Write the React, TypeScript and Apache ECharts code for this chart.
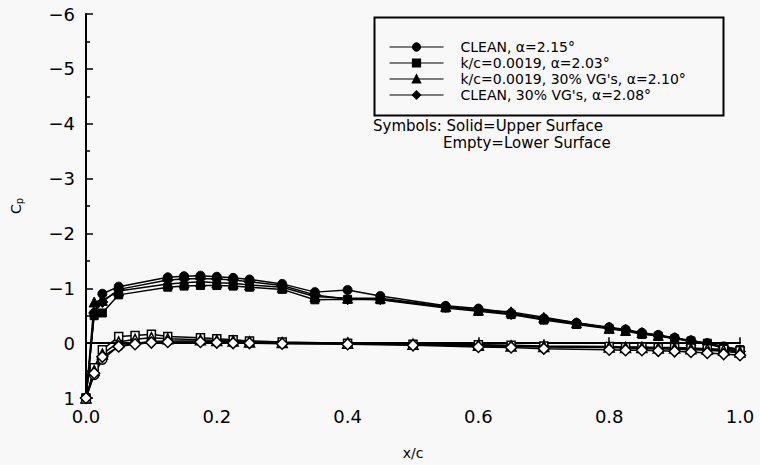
import React, { useEffect, useRef } from "react";
import * as echarts from "echarts";

const FONT = "'DejaVu Sans', 'Liberation Sans', sans-serif";

// Chordwise stations (x/c)
const xUpper = [0, 0.0125, 0.025, 0.05, 0.125, 0.15, 0.175, 0.2, 0.225, 0.25, 0.3, 0.35, 0.4, 0.45, 0.55, 0.6, 0.65, 0.7, 0.75, 0.8, 0.825, 0.85, 0.875, 0.9, 0.925, 0.95, 0.975, 1.0];
const xLower = [0, 0.0125, 0.025, 0.05, 0.075, 0.1, 0.125, 0.175, 0.2, 0.225, 0.25, 0.3, 0.4, 0.5, 0.6, 0.65, 0.7, 0.8, 0.825, 0.85, 0.875, 0.9, 0.925, 0.95, 0.975, 1.0];

// Pressure coefficient, upper surface
const cleanUpper = [1.0, -0.55, -0.9, -1.03, -1.2, -1.22, -1.23, -1.21, -1.19, -1.16, -1.08, -0.93, -0.97, -0.86, -0.68, -0.63, -0.55, -0.45, -0.37, -0.29, -0.25, -0.19, -0.15, -0.1, -0.05, 0.0, 0.06, 0.12];
const roughUpper = [1.0, -0.5, -0.55, -0.88, -1.02, -1.04, -1.05, -1.05, -1.04, -1.02, -0.98, -0.79, -0.8, -0.79, -0.64, -0.58, -0.52, -0.42, -0.34, -0.26, -0.22, -0.16, -0.13, -0.08, -0.04, 0.0, 0.06, 0.12];
const roughVgUpper = [1.0, -0.75, -0.78, -0.95, -1.08, -1.1, -1.12, -1.1, -1.09, -1.06, -1.02, -0.85, -0.82, -0.82, -0.67, -0.6, -0.57, -0.47, -0.37, -0.27, -0.23, -0.19, -0.14, -0.09, -0.04, 0.02, 0.08, 0.14];
const cleanVgUpper = [1.0, -0.55, -0.75, -0.98, -1.15, -1.17, -1.18, -1.17, -1.15, -1.12, -1.05, -0.88, -0.8, -0.8, -0.66, -0.61, -0.53, -0.44, -0.36, -0.28, -0.24, -0.18, -0.14, -0.09, -0.04, 0.01, 0.08, 0.15];

// Pressure coefficient, lower surface
const cleanLower = [1.0, 0.58, 0.3, 0.05, 0.0, -0.03, -0.04, -0.04, -0.03, -0.02, -0.01, 0.0, 0.01, 0.03, 0.05, 0.06, 0.07, 0.08, 0.09, 0.1, 0.1, 0.11, 0.12, 0.13, 0.15, 0.18];
const roughLower = [1.0, 0.45, 0.12, -0.12, -0.14, -0.16, -0.12, -0.1, -0.08, -0.06, -0.04, -0.02, 0.0, 0.02, 0.03, 0.04, 0.05, 0.06, 0.07, 0.07, 0.08, 0.08, 0.09, 0.1, 0.11, 0.14];
const roughVgLower = [1.0, 0.5, 0.2, -0.02, -0.07, -0.1, -0.08, -0.06, -0.05, -0.04, -0.02, -0.01, 0.0, 0.02, 0.04, 0.05, 0.06, 0.07, 0.08, 0.08, 0.09, 0.09, 0.1, 0.11, 0.13, 0.16];
const cleanVgLower = [1.0, 0.55, 0.25, 0.06, 0.02, -0.01, -0.02, -0.02, -0.01, 0.0, 0.0, 0.01, 0.02, 0.04, 0.07, 0.08, 0.1, 0.12, 0.13, 0.13, 0.14, 0.15, 0.16, 0.18, 0.2, 0.22];

const seriesNames = [
  "CLEAN, α=2.15°",
  "k/c=0.0019, α=2.03°",
  "k/c=0.0019, 30% VG's, α=2.10°",
  "CLEAN, 30% VG's, α=2.08°",
];
const symbols = ["circle", "rect", "triangle", "diamond"];
const symbolSizes = [9, 8, 10, 11];
const upperSets = [cleanUpper, roughUpper, roughVgUpper, cleanVgUpper];
const lowerSets = [cleanLower, roughLower, roughVgLower, cleanVgLower];

const pairs = (xs: number[], ys: number[]) => xs.map((x, i) => [x, ys[i]]);

export default function App() {
  const ref = useRef<HTMLDivElement>(null);

  useEffect(() => {
    if (!ref.current) return;
    const chart = echarts.init(ref.current, null, { renderer: "svg" });

    const series: any[] = [];
    seriesNames.forEach((name, k) => {
      // solid symbols: upper surface
      series.push({
        name,
        type: "line",
        data: pairs(xUpper, upperSets[k]),
        symbol: symbols[k],
        symbolSize: symbolSizes[k],
        showAllSymbol: true,
        lineStyle: { color: "#000", width: 1.5 },
        itemStyle: { color: "#000", borderColor: "#000", borderWidth: 1 },
        z: 3,
      });
    });
    seriesNames.forEach((name, k) => {
      // empty symbols: lower surface
      series.push({
        name,
        type: "line",
        data: pairs(xLower, lowerSets[k]),
        symbol: symbols[k],
        symbolSize: symbolSizes[k],
        showAllSymbol: true,
        lineStyle: { color: "#000", width: 1.5 },
        itemStyle: { color: "#fff", borderColor: "#000", borderWidth: 1.5 },
        z: 3,
        markLine:
          k === 0
            ? {
                silent: true,
                symbol: "none",
                label: { show: false },
                lineStyle: { color: "#000", width: 1, type: "solid" },
                data: [{ yAxis: 0 }],
                z: 1,
              }
            : undefined,
      });
    });

    chart.setOption({
      animation: false,
      backgroundColor: "#f8f8f8",
      textStyle: { fontFamily: FONT },
      grid: { left: 86, right: 20, top: 14, bottom: 63, containLabel: false },
      xAxis: {
        type: "value",
        min: 0,
        max: 1,
        interval: 0.2,
        name: "x/c",
        nameLocation: "middle",
        nameGap: 48,
        nameTextStyle: { fontFamily: FONT, fontSize: 14, color: "#000" },
        axisLine: { lineStyle: { color: "#000", width: 2 } },
        axisTick: { inside: true, length: 6, lineStyle: { color: "#000", width: 1.5 } },
        minorTick: { show: true, splitNumber: 2, length: 4, lineStyle: { color: "#000", width: 1.5 } },
        axisLabel: {
          formatter: (v: number) => v.toFixed(1),
          fontFamily: FONT,
          fontSize: 18,
          color: "#000",
          margin: 9,
        },
        splitLine: { show: false },
      },
      yAxis: {
        type: "value",
        min: -6,
        max: 1,
        interval: 1,
        inverse: true,
        name: "{c|C}{p|p}",
        nameLocation: "middle",
        nameRotate: 90,
        nameGap: 62,
        nameTextStyle: {
          color: "#000",
          rich: {
            c: { fontFamily: FONT, fontSize: 14, color: "#000" },
            p: { fontFamily: FONT, fontSize: 10, color: "#000", padding: [6, 0, 0, 0] },
          },
        },
        axisLine: { lineStyle: { color: "#000", width: 2 } },
        axisTick: { inside: true, length: 7, lineStyle: { color: "#000", width: 1.5 } },
        minorTick: { show: true, splitNumber: 2, length: 4, lineStyle: { color: "#000", width: 1.5 } },
        axisLabel: {
          formatter: (v: number) => (v < 0 ? "\u2212" + Math.abs(v) : String(v)),
          fontFamily: FONT,
          fontSize: 18,
          color: "#000",
          margin: 11,
        },
        splitLine: { show: false },
      },
      legend: {
        orient: "vertical",
        left: 384,
        top: 34,
        itemWidth: 54,
        itemHeight: 9,
        itemGap: 0,
        selectedMode: false,
        data: seriesNames,
        lineStyle: { width: 1 },
        textStyle: {
          fontFamily: FONT,
          fontSize: 14,
          lineHeight: 16,
          color: "#000",
          padding: [0, 0, 0, 12],
        },
      },
      graphic: [
        {
          type: "rect",
          left: 372,
          top: 15,
          shape: { width: 349, height: 98 },
          style: { fill: "none", stroke: "#000", lineWidth: 2 },
          silent: true,
        },
        {
          type: "text",
          left: 373,
          top: 118,
          style: { text: "Symbols: Solid=Upper Surface", fontFamily: FONT, fontSize: 15, fill: "#000" },
        },
        {
          type: "text",
          left: 443,
          top: 135,
          style: { text: "Empty=Lower Surface", fontFamily: FONT, fontSize: 15, fill: "#000" },
        },
      ],
      series,
    });

    return () => chart.dispose();
  }, []);

  return (
    <div
      ref={ref}
      style={{ position: "absolute", left: 0, top: 0, width: 760, height: 465 }}
    />
  );
}
